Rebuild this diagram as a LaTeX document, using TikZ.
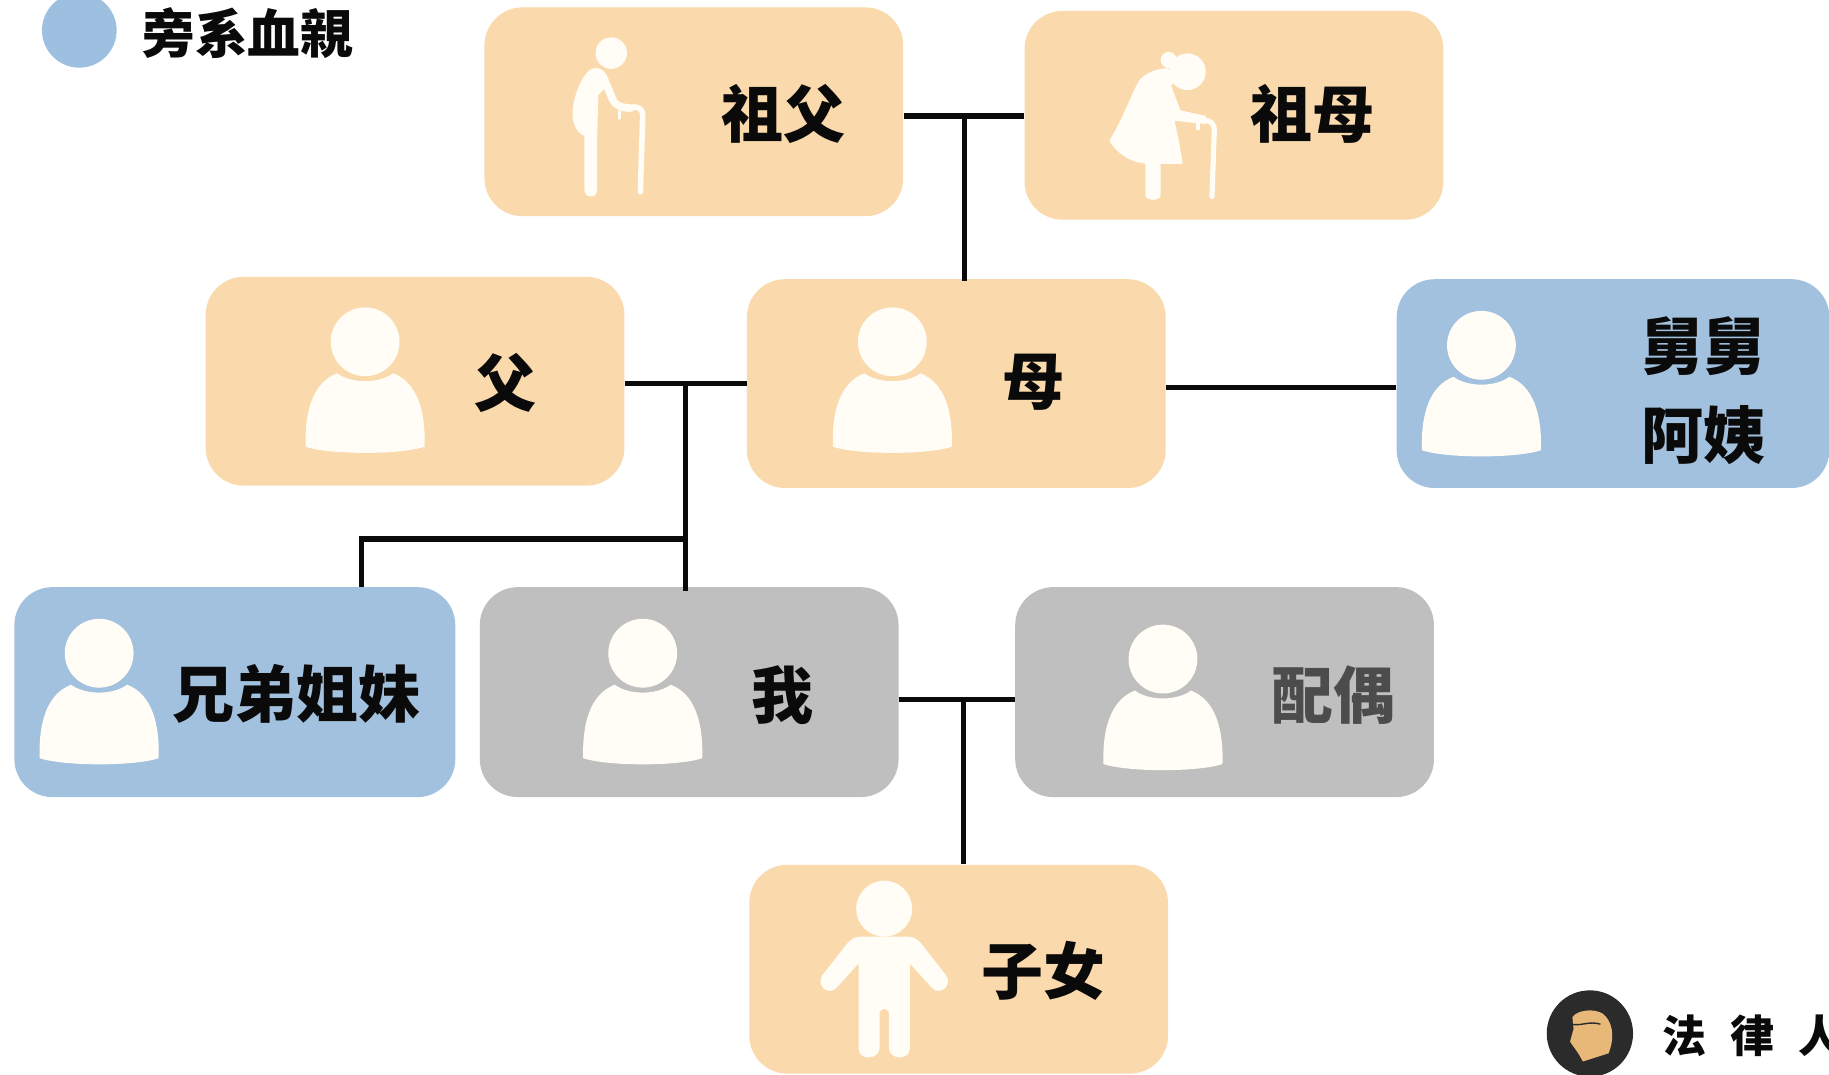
\documentclass[tikz,border=0pt]{standalone}
\usepackage{fontspec}
\setmainfont{Noto Sans CJK TC}
\newcommand{\uu}{0.5832pt}
\definecolor{peach}{HTML}{FAD9AC}
\definecolor{sky}{HTML}{A2C1DE}
\definecolor{legendsky}{HTML}{9DBFE0}
\definecolor{greybox}{HTML}{BFBFBF}
\definecolor{iconc}{HTML}{FFFDF5}
\definecolor{ink}{HTML}{0A0A0A}
\definecolor{logoc}{HTML}{2B2B2B}
\definecolor{facec}{HTML}{E8B878}
\tikzset{
  bx/.style={rectangle,rounded corners=19pt,inner sep=0pt,draw=none,anchor=north west,minimum width=359*\uu,minimum height=179*\uu},
  lab/.style={inner sep=0pt,text=ink,font=\fontsize{31}{31}\selectfont\bfseries,align=center},
  con/.style={draw=ink,line width=2.6pt},
  adult/.pic={
    \fill[iconc,line join=round] (-51,90) .. controls (-52,60) and (-45,35) .. (-24,27) .. controls (-12,36) and (12,36) .. (24,27) .. controls (45,35) and (52,60) .. (51,90) .. controls (30,97) and (-30,97) .. (-51,90) -- cycle;
    \fill[iconc] (0,0) circle [radius=29.5];
  },
  elderman/.pic={
    \fill[iconc] (0,0) circle [radius=13.5];
    \fill[iconc] (-15,13) .. controls (-25,15) and (-33,40) .. (-33,49) .. controls (-34,60) and (-30,68) .. (-23,71) -- (-23,117) .. controls (-23,125) and (-12,125) .. (-12,117) -- (-12,69) -- (-11,36) -- (-6,31) .. controls (-3,38) and (-1,44) .. (2,46) .. controls (7,50) and (13,51) .. (19,50) -- (20,44) .. controls (13,44) and (7,43) .. (5,40) -- (-3,21) .. controls (-5,15) and (-10,12) .. (-15,13) -- cycle;
    \draw[iconc,line width=2.8pt,line cap=round] (16,47) .. controls (24,45) and (27,48) .. (27,54) -- (25,119);
    \draw[iconc,line width=1.6pt,line cap=round] (7,50) -- (7,56);
  },
  elderwoman/.pic={
    \fill[iconc] (0,0) circle [radius=15.7];
    \fill[iconc] (-16,-10) circle [radius=7];
    \fill[iconc] (-17,-3) .. controls (-28,-3) and (-38,3) .. (-41,7) .. controls (-48,18) and (-55,40) .. (-67,59) .. controls (-60,72) and (-45,79) .. (-33,79) -- (-4,79) -- (-7,61) -- (-11,42) -- (16,45) -- (16,38) -- (-6,33) -- (-14,12) -- (-8,5) -- cycle;
    \fill[iconc] (-36,78) -- (-23,78) -- (-23,106) .. controls (-23,111) and (-36,111) .. (-36,106) -- cycle;
    \draw[iconc,line width=2.6pt,line cap=round] (14,42) .. controls (19,41) and (23,44) .. (23,50) -- (21,107);
    \draw[iconc,line width=1.6pt,line cap=round] (9,44) -- (9,49);
  },
  childicon/.pic={
    \fill[iconc] (0,0) circle [radius=24];
    \fill[iconc] (-20,24) -- (20,24) .. controls (25,24) and (28,26) .. (31,29) -- (53,57) .. controls (59,66) and (48,75) .. (41,68) -- (22,47) -- (22,120) .. controls (22,130) and (5,130) .. (4,120) -- (4,89) .. controls (3,85) and (-3,85) .. (-4,89) -- (-4,120) .. controls (-5,130) and (-22,130) .. (-22,120) -- (-22,47) -- (-41,68) .. controls (-48,75) and (-59,66) .. (-53,57) -- (-31,29) .. controls (-28,26) and (-25,24) .. (-20,24) -- cycle;
  },
}
\begin{document}
\begin{tikzpicture}[x=\uu,y=-\uu]
\useasboundingbox (0,0) rectangle (1568,921);
\clip (0,0) rectangle (1568,921);
\fill[white] (0,0) rectangle (1568,921);
% boxes
\node[bx,fill=peach] (gf) at (415,6) {};
\node[bx,fill=peach] (gm) at (878,9) {};
\node[bx,fill=peach] (fa) at (176,237) {};
\node[bx,fill=peach] (mo) at (640,239) {};
\node[bx,fill=sky,minimum width=371*\uu] (un) at (1197,239) {};
\node[bx,fill=sky,minimum width=378*\uu,minimum height=180*\uu] (si) at (12,503) {};
\node[bx,fill=greybox,minimum height=180*\uu] (me) at (411,503) {};
\node[bx,fill=greybox,minimum height=180*\uu] (sp) at (870,503) {};
\node[bx,fill=peach] (ch) at (642,741) {};
% junctions
\coordinate (j1) at (827,99.5);
\coordinate (j2) at (588,328.5);
\coordinate (j3) at (588,462);
\coordinate (j4) at (310,462);
\coordinate (j5) at (826,600);
\coordinate (j6) at (1100,332.5);
% connectors
\draw[con] (gf.east |- j1) -- (gm.west |- j1);
\draw[con] (j1) -- (j1 |- mo.north) -- ++(0,2);
\draw[con] (fa.east |- j2) -- (mo.west |- j2);
\draw[con] (j2) -- (j2 |- me.north) -- ++(0,4);
\draw[con] (j3) -- (j4) -- (j4 |- si.north);
\draw[con] (mo.east |- j6) -- (un.west |- j6);
\draw[con] (me.east |- j5) -- (sp.west |- j5);
\draw[con] (j5) -- (j5 |- ch.north);
% icons
\pic at (524,45.5) {elderman};
\pic at (1018,61.5) {elderwoman};
\pic at (313,293) {adult};
\pic at (765,293) {adult};
\pic at (1270,296) {adult};
\pic at (85,560) {adult};
\pic at (551,560) {adult};
\pic at (997,565) {adult};
\pic at (758,779) {childicon};
% labels
\node[lab] (tgf) at (672,98) {祖父};
\node[lab] (tgm) at (1125,98) {祖母};
\node[lab] (tfa) at (433,328) {父};
\node[lab] (tmo) at (886,328) {母};
\node[lab,font=\fontsize{31}{44.3}\selectfont\bfseries] (tun) at (1460,335) {舅舅\\阿姨};
\node[lab] (tsi) at (254,595) {兄弟姐妹};
\node[lab] (tme) at (671,596) {我};
\node[lab,text=black!70] (tsp) at (1143,596) {配偶};
\node[lab] (tch) at (895,832) {子女};
% legend
\fill[legendsky] (68,26) circle [radius=32];
\node[lab,anchor=west,font=\fontsize{26.3}{26.3}\selectfont\bfseries] (tleg) at (122,28) {旁系血親};
% logo
\fill[logoc] (1363,886) circle [radius=37];
\fill[facec] (1348,872) .. controls (1352,866) and (1366,864) .. (1374,869) .. controls (1382,875) and (1385,888) .. (1379,903) -- (1357,910) -- (1353,903) -- (1346,893) -- (1349,882) -- cycle;
\draw[logoc,line width=.7pt] (1347,878) .. controls (1355,880) and (1362,875) .. (1372,878);
\node[inner sep=0pt,anchor=west,text=ink,font=\fontsize{22}{22}\selectfont\bfseries] (tlogo) at (1425,888) {法\hspace{12pt}律\hspace{12pt}人};
\end{tikzpicture}
\end{document}
